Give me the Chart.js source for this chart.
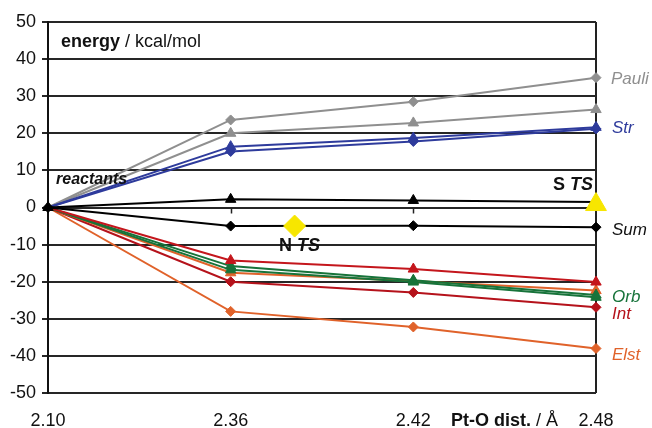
<!DOCTYPE html>
<html>
<head>
<meta charset="utf-8">
<script src="https://cdn.jsdelivr.net/npm/chart.js@4/dist/chart.umd.min.js"></script>
<style>
  html, body { margin: 0; padding: 0; background: #fff; }
  #wrap { width: 652px; height: 428px; }
</style>
</head>
<body>
<div id="wrap"><canvas id="chart" width="652" height="428"></canvas></div>
<script>
// --- data ---
const xLabels = ['2.10', '2.36', '2.42', '2.48'];
const yTicks = [50, 40, 30, 20, 10, 0, -10, -20, -30, -40, -50];

const pauliDia = [0, 23.6, 28.5, 35.0];
const pauliTri = [0, 20.0, 22.8, 26.4];
const strDia   = [0, 15.1, 17.8, 21.2];
const strTri   = [0, 16.4, 18.7, 21.6];
const sumTri   = [0, 2.2, 1.9, 1.5];
const sumDia   = [0, -5.0, -4.9, -5.3];
const intTri   = [0, -14.3, -16.6, -20.1];
const orbTri   = [0, -15.8, -19.6, -23.6];
const orbDia   = [0, -16.8, -20.1, -24.2];
const elstTri  = [0, -17.6, -19.8, -22.4];
const intDia   = [0, -20.0, -22.9, -26.9];
const elstDia  = [0, -28.0, -32.2, -38.0];

const nTS = [{ x: 1.35, y: -5.0 }];
const sTS = [{ x: 3, y: 0.8 }];

// --- helpers ---
const FONT = '"Liberation Sans", Arial, sans-serif';
const pts = arr => arr.map((v, i) => ({ x: i, y: v }));

function series(label, arr, color, style, showFirst) {
    const r = style === 'triangle' ? 6 : 5;
    return {
        label,
        data: pts(arr),
        borderColor: color,
        backgroundColor: color,
        borderWidth: 2,
        pointStyle: style,
        pointRadius: c => (c.dataIndex === 0 && !showFirst) ? 0 : r,
        pointBorderWidth: 1,
        tension: 0,
        clip: false
    };
}

// annotations in data coordinates
const notes = [
    { x: 0, y: 43.3, dx: 13, runs: [['energy', 'bold 18px'], [' / kcal/mol', '18px']], color: '#111' },
    { x: 0, y: 6.2, dx: 8, runs: [['reactants', 'italic bold 16px']], color: '#111' },
    { x: 3, y: 33.3, dx: 15, runs: [['Pauli', 'italic 17px']], color: '#8f8f8f' },
    { x: 3, y: 20.2, dx: 16, runs: [['Str', 'italic 17px']], color: '#2e3b9c' },
    { x: 3, y: 4.6, dx: -3, align: 'right', runs: [['S ', 'bold 18px'], ['TS', 'italic bold 18px']], color: '#111' },
    { x: 3, y: -7.5, dx: 16, runs: [['Sum', 'italic 17px']], color: '#111' },
    { x: 1.264, y: -11.6, dx: 0, runs: [['N ', 'bold 18px'], ['TS', 'italic bold 18px']], color: '#111' },
    { x: 3, y: -25.5, dx: 16, runs: [['Orb', 'italic 17px']], color: '#17733a' },
    { x: 3, y: -30.1, dx: 16, runs: [['Int', 'italic 17px']], color: '#b5121b' },
    { x: 3, y: -41.1, dx: 16, runs: [['Elst', 'italic 17px']], color: '#e0622a' }
];

const notesPlugin = {
    id: 'notes',
    afterDatasetsDraw(chart) {
        const { ctx, scales: { x, y } } = chart;
        ctx.save();
        // x ticks on the zero line
        ctx.strokeStyle = '#222';
        ctx.lineWidth = 1.5;
        const y0 = y.getPixelForValue(0);
        [1, 2].forEach(i => {
            const px = Math.round(x.getPixelForValue(i)) + 0.5;
            ctx.beginPath();
            ctx.moveTo(px, y0);
            ctx.lineTo(px, y0 + 6);
            ctx.stroke();
        });
        ctx.textBaseline = 'alphabetic';
        notes.forEach(n => {
            let px = x.getPixelForValue(n.x) + n.dx;
            const py = y.getPixelForValue(n.y);
            const widths = n.runs.map(r => { ctx.font = r[1] + ' ' + FONT; return ctx.measureText(r[0]).width; });
            if (n.align === 'right') px -= widths.reduce((a, b) => a + b, 0);
            ctx.fillStyle = n.color;
            n.runs.forEach((r, k) => {
                ctx.font = r[1] + ' ' + FONT;
                ctx.textAlign = 'left';
                ctx.fillText(r[0], px, py);
                px += widths[k];
            });
        });
        // axis title next to the tick labels
        const ty = chart.chartArea.bottom + 33;
        let tx = 451;
        ctx.fillStyle = '#111';
        ctx.font = 'bold 18px ' + FONT;
        ctx.fillText('Pt-O dist.', tx, ty);
        tx += ctx.measureText('Pt-O dist.').width;
        ctx.font = '18px ' + FONT;
        ctx.fillText(' / Å', tx, ty);
        ctx.restore();
    }
};

new Chart(document.getElementById('chart'), {
    type: 'line',
    data: {
        datasets: [
            { label: 'N TS', data: nTS, showLine: false, pointStyle: 'rectRot', pointRadius: 11,
              backgroundColor: '#f7e600', borderColor: '#f7e600', clip: false },
            { label: 'S TS', data: sTS, showLine: false, pointStyle: 'triangle', pointRadius: 12,
              backgroundColor: '#f7e600', borderColor: '#f7e600', clip: false },
            series('Sum tri', sumTri, '#000', 'triangle', true),
            series('Sum', sumDia, '#000', 'rectRot', true),
            series('Str tri', strTri, '#2e3b9c', 'triangle'),
            series('Str', strDia, '#2e3b9c', 'rectRot'),
            series('Pauli', pauliDia, '#8f8f8f', 'rectRot'),
            series('Pauli tri', pauliTri, '#8f8f8f', 'triangle'),
            series('Int tri', intTri, '#c4161c', 'triangle'),
            series('Orb tri', orbTri, '#17733a', 'triangle'),
            series('Orb', orbDia, '#17733a', 'triangle'),
            series('Elst tri', elstTri, '#e0622a', 'triangle'),
            series('Int', intDia, '#b5121b', 'rectRot'),
            series('Elst', elstDia, '#e0622a', 'rectRot')
        ]
    },
    options: {
        responsive: false,
        animation: false,
        layout: { padding: { top: 22, right: 56, left: 0, bottom: 0 } },
        plugins: { legend: { display: false }, tooltip: { enabled: false } },
        scales: {
            x: {
                type: 'linear', min: 0, max: 3,
                afterFit: s => { s.height = 35; },
                afterBuildTicks: s => { s.ticks = xLabels.map((_, i) => ({ value: i })); },
                ticks: { callback: v => xLabels[v], color: '#111', font: { family: FONT, size: 18 }, padding: 17, maxRotation: 0 },
                grid: { color: c => c.tick && c.tick.value === 3 ? '#222' : 'rgba(0,0,0,0)', lineWidth: 2, drawTicks: false },
                border: { display: false }
            },
            y: {
                min: -50, max: 50,
                afterFit: s => { s.width = 48; },
                afterBuildTicks: s => { s.ticks = yTicks.map(v => ({ value: v })); },
                ticks: { color: '#111', font: { family: FONT, size: 18 }, padding: 6 },
                grid: { color: '#262626', lineWidth: 2, tickLength: 6, tickColor: '#262626' },
                border: { color: '#111', width: 2 }
            }
        }
    },
    plugins: [notesPlugin]
});
</script>
</body>
</html>
